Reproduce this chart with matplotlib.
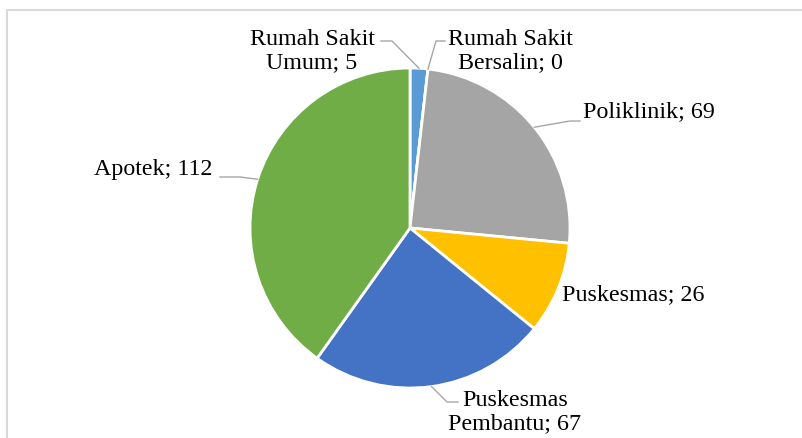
import numpy as np
import matplotlib
matplotlib.use('Agg')
import matplotlib.pyplot as plt

# Data (clockwise from 12 o'clock)
categories = ['Rumah Sakit\nUmum', 'Rumah Sakit\nBersalin', 'Poliklinik',
              'Puskesmas', 'Puskesmas\nPembantu', 'Apotek']
values = [5, 0, 69, 26, 67, 112]
colors = ['#5B9BD5', '#ED7D31', '#A5A5A5', '#FFC000', '#4472C4', '#70AD47']

plt.rcParams['font.family'] = ['Liberation Serif', 'DejaVu Serif']

W, H = 802, 438
fig = plt.figure(figsize=(W / 100, H / 100), dpi=100)
ax = fig.add_axes([0, 0, 1, 1])

cx, cy, r = 410, 228, 160
# y axis is inverted below, so startangle=-90 / counterclock=True draws clockwise from the top
wedges, _ = ax.pie(values, colors=colors, startangle=-90, counterclock=True,
                   center=(cx, cy), radius=r,
                   wedgeprops=dict(edgecolor='white', linewidth=2))
ax.set_xlim(0, W)
ax.set_ylim(H, 0)
ax.set_aspect('equal')
ax.axis('off')

# label text position, alignment, and the leader path (elbow, end next to text) or None
label_layout = [
    dict(xy=(312, 51), ha='center', path=[(392, 41), (381, 41)]),
    dict(xy=(510, 51), ha='center', path=[(436, 41), (445, 41)]),
    dict(xy=(583, 112), ha='left', path=[(570, 121), (580, 121)]),
    dict(xy=(562, 295), ha='left', path=None),
    dict(xy=(515, 412), ha='center', path=[(447, 402), (458, 402)]),
    dict(xy=(213, 169), ha='right', path=[(240, 177), (220, 177)]),
]

for w, cat, val, lay in zip(wedges, categories, values, label_layout):
    ax.text(lay['xy'][0], lay['xy'][1], f'{cat}; {val}', ha=lay['ha'], va='center',
            multialignment='center', fontsize=17.3, color='#000000', linespacing=1.12)
    if lay['path'] is not None:
        mid = np.deg2rad((w.theta1 + w.theta2) / 2)
        ax0 = cx + r * np.cos(mid)
        ay0 = cy + r * np.sin(mid)
        xs = [ax0] + [p[0] for p in lay['path']]
        ys = [ay0] + [p[1] for p in lay['path']]
        ax.plot(xs, ys, color='#A6A6A6', linewidth=1)

# chart frame (only top and left edges are visible in the crop)
ax.plot([7, 7, W + 5], [H + 5, 10, 10], color='#D9D9D9', linewidth=1.5, clip_on=False)

fig.savefig('out.png', dpi=100, facecolor='white')
